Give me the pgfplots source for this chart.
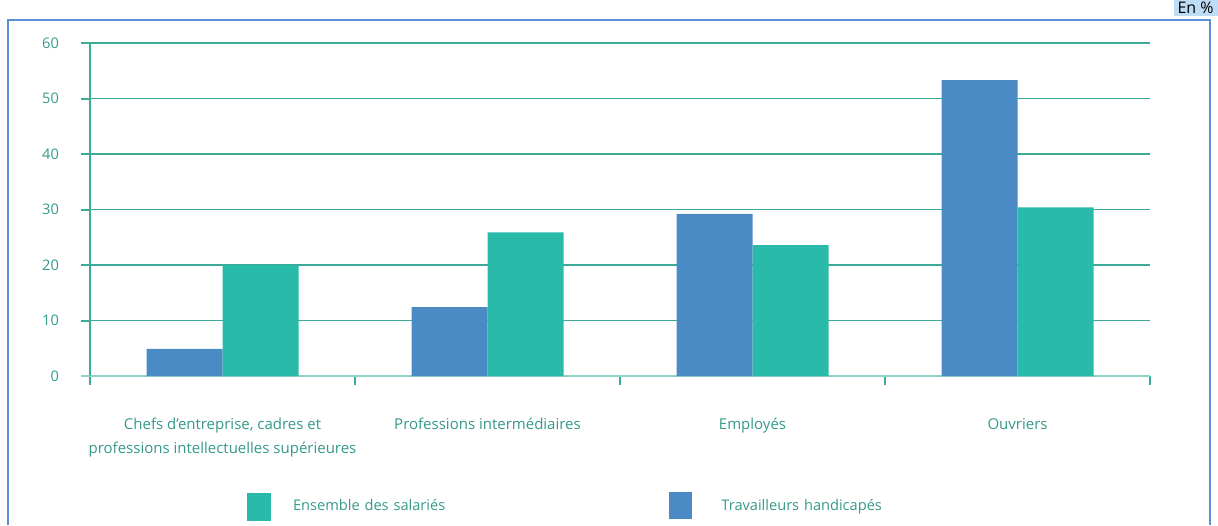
\documentclass[border=0pt]{standalone}
\usepackage{fontspec}
\setmainfont{Open Sans}
\usepackage{pgfplots}
\pgfplotsset{compat=1.18}
\definecolor{barblue}{HTML}{4A8BC6}
\definecolor{barteal}{HTML}{2ABAAA}
\definecolor{gridteal}{HTML}{3DAA98}
\definecolor{lightteal}{HTML}{8ED3C8}
\definecolor{txtteal}{HTML}{35998A}
\definecolor{frameblue}{HTML}{5B8FD9}
\definecolor{hl}{HTML}{BFDCF7}
\begin{document}
\begin{tikzpicture}
\useasboundingbox (0,0) rectangle (609pt,262.5pt);
\draw[frameblue, line width=1pt] (4pt,0) -- (4pt,252.5pt) -- (605pt,252.5pt) -- (605pt,0);
\node[fill=hl, inner xsep=2pt, inner ysep=1pt, anchor=north east, font=\fontsize{8}{9}\selectfont] at (609pt,262.5pt) {En \%};
\begin{axis}[
  at={(45pt,74.5pt)}, anchor=south west,
  scale only axis, width=530pt, height=166.5pt,
  xmin=-0.5, xmax=3.5, ymin=0, ymax=60,
  axis x line=bottom, axis y line=left,
  axis line style={-},
  x axis line style={lightteal, line width=1pt},
  y axis line style={gridteal, line width=1pt},
  ytick={10,20,...,60},
  extra y ticks={0},
  extra y tick style={grid=none, major tick style={draw=lightteal}},
  xtick={-0.5,0.5,1.5,2.5,3.5},
  x tick label as interval,
  xticklabels={{Chefs d'entreprise, cadres et\\professions intellectuelles supérieures}, {Professions intermédiaires}, {Employés}, {Ouvriers}},
  tick align=outside,
  major tick length=4.5pt,
  tick style={gridteal, line width=1pt},
  ymajorgrids,
  grid style={gridteal, line width=0.9pt},
  /pgf/number format/assume math mode=true,
  yticklabel style={font=\fontsize{7.3}{8}\selectfont, text=txtteal, xshift=-7.5pt},
  xticklabel style={font=\fontsize{7.5}{12}\selectfont, text=txtteal, align=center, yshift=-13pt},
  legend columns=2,
  legend style={at={(0.148,-0.393)}, anchor=west, draw=none, fill=none, inner sep=0pt,
    column sep=11pt, font=\fontsize{7.3}{9}\selectfont, text=txtteal,
    nodes={text width=177pt, inner xsep=0pt, align=left}},
  legend entries={Ensemble des salariés, Travailleurs handicapés},
]
\addlegendimage{legend image code/.code={\fill[barteal] (0pt,-7pt) rectangle (11.5pt,6.5pt);}}
\addlegendimage{legend image code/.code={\fill[barblue] (0pt,-6pt) rectangle (11pt,7pt); \path[draw=none,fill=none] (0pt,0pt) rectangle (15pt,0.1pt);}}
\addplot[ybar, bar width=38pt, bar shift=-19pt, fill=barblue, draw=none] coordinates {(0,4.9) (1,12.4) (2,29.2) (3,53.3)};
\addplot[ybar, bar width=38pt, bar shift=19pt, fill=barteal, draw=none] coordinates {(0,20.0) (1,25.9) (2,23.6) (3,30.4)};
\end{axis}
\end{tikzpicture}
\end{document}
